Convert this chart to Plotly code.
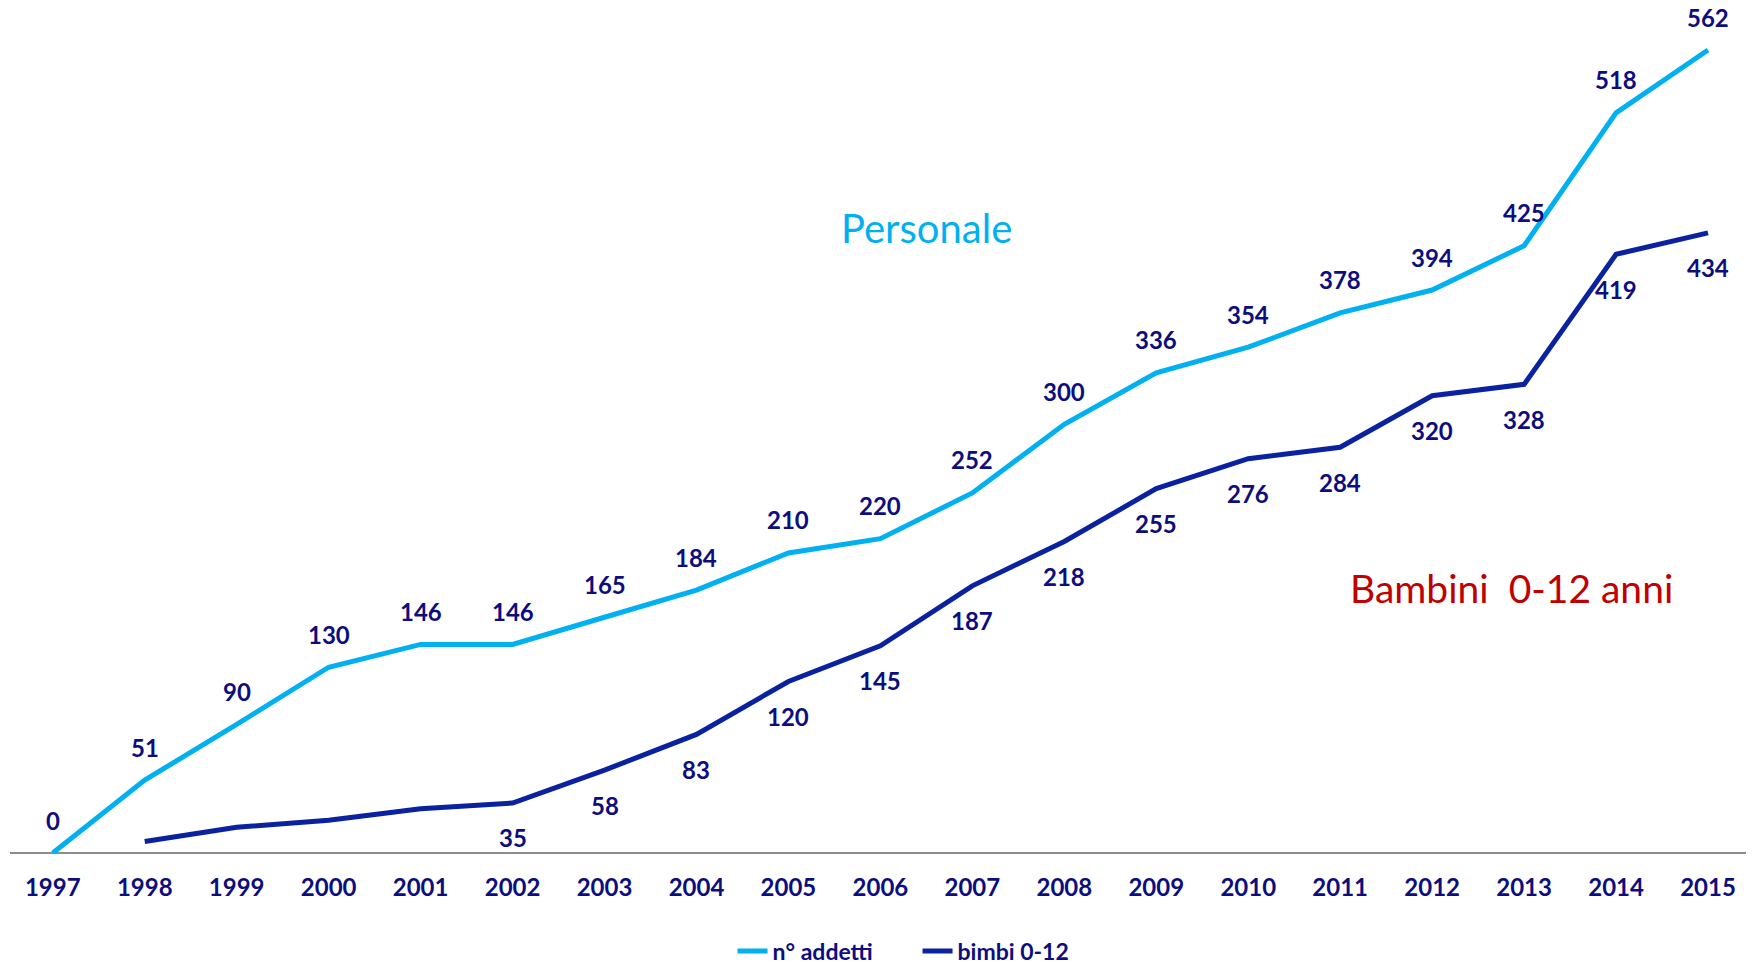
import plotly.graph_objects as go

years = list(range(1997, 2016))
addetti = [0, 51, 90, 130, 146, 146, 165, 184, 210, 220, 252, 300, 336, 354, 378, 394, 425, 518, 562]
bimbi_years = list(range(1998, 2016))
bimbi = [8, 18, 23, 31, 35, 58, 83, 120, 145, 187, 218, 255, 276, 284, 320, 328, 419, 434]
bimbi_labels = ["", "", "", "", "35", "58", "83", "120", "145", "187", "218", "255", "276", "284", "320", "328", "419", "434"]

light = "#00B0F0"
dark = "#0A22A0"
navy = "#0D0D80"
font_family = "Lato, 'Open Sans', sans-serif"

fig = go.Figure()
fig.add_trace(go.Scatter(x=years, y=addetti, mode="lines", name="n° addetti",
                         line=dict(color=light, width=5)))
fig.add_trace(go.Scatter(x=bimbi_years, y=bimbi, mode="lines", name="bimbi 0-12",
                         line=dict(color=dark, width=5)))

for x, v in zip(years, addetti):
    fig.add_annotation(x=x, y=v, text=str(v), showarrow=False, yshift=33,
                       xanchor="center", yanchor="middle",
                       font=dict(family=font_family, size=24, color=navy, weight="bold"))
for x, v, t in zip(bimbi_years, bimbi, bimbi_labels):
    if t:
        fig.add_annotation(x=x, y=v, text=t, showarrow=False, yshift=-35,
                           xanchor="center", yanchor="middle",
                           font=dict(family=font_family, size=24, color=navy, weight="bold"))

fig.add_annotation(x=0.523, y=0.7396, xref="paper", yref="paper",
                   text="Personale", showarrow=False, xanchor="center", yanchor="middle",
                   font=dict(family=font_family, size=40, color=light))
fig.add_annotation(x=0.857, y=0.3136, xref="paper", yref="paper",
                   text="Bambini  0-12 anni", showarrow=False, xanchor="center", yanchor="middle",
                   font=dict(family=font_family, size=39, color="#C00000"))

fig.update_layout(
    width=1754, height=963,
    margin=dict(l=2, r=0, t=0, b=118, autoexpand=False),
    plot_bgcolor="white", paper_bgcolor="white",
    showlegend=True,
    legend=dict(orientation="h", x=0.518, xanchor="center", y=-0.116, yanchor="middle",
                font=dict(family=font_family, size=23, color=navy, weight="bold"),
                itemwidth=30, entrywidth=140, entrywidthmode="pixels"),
    xaxis=dict(range=[1996.535, 2015.587], tickvals=years, ticktext=[str(y) for y in years],
               showgrid=False, zeroline=False, showline=False, ticks="",
               ticklabelstandoff=18, automargin=False,
               tickfont=dict(family=font_family, size=24, color=navy, weight="bold")),
    yaxis=dict(range=[0, 591.4], showgrid=False, zeroline=True, zerolinecolor="#8C8C8C",
               zerolinewidth=2, showticklabels=False, showline=False, ticks="", automargin=False),
)

fig.write_html("out.html")
